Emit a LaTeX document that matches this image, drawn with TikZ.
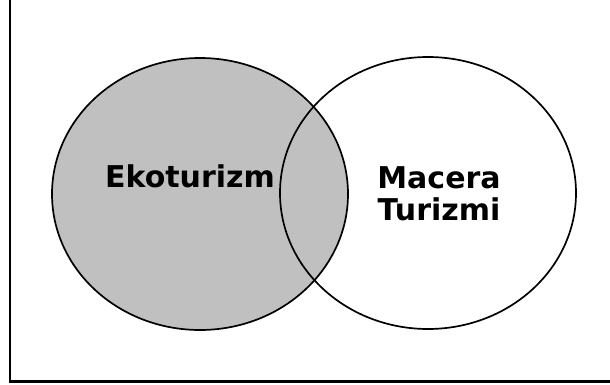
\documentclass[tikz,border=0pt]{standalone}
\usepackage{fontspec}
\setmainfont{DejaVu Sans}
\usetikzlibrary{shapes.geometric}
\definecolor{setgray}{HTML}{C0C0C0}
\tikzset{
  setshape/.style={ellipse, draw=black, line width=1.7pt, minimum width=296pt, minimum height=272pt, inner sep=0pt, outer sep=0pt},
  setlabel/.style={font=\fontsize{30}{32.5}\selectfont\bfseries, inner sep=0pt, align=center}
}
\begin{document}
\begin{tikzpicture}[x=1pt,y=-1pt]
\useasboundingbox (0,0) rectangle (610,385);
\clip (0,0) rectangle (610,385);
\coordinate (ftop) at (10,-5);
\coordinate (fcorner) at (10,381.5);
\coordinate (fright) at (615,381.5);
\draw[line width=2.4pt] (ftop) -- (fcorner) -- (fright);
\node[setshape, fill=setgray] (L) at (200,194) {};
\node[setshape] (R) at (428,193) {};
\node[setlabel, anchor=base] (ek) at (190,187.3) {Ekoturizm};
\node[setlabel] (mt) at (439,194) {Macera\\Turizmi};
\end{tikzpicture}
\end{document}
